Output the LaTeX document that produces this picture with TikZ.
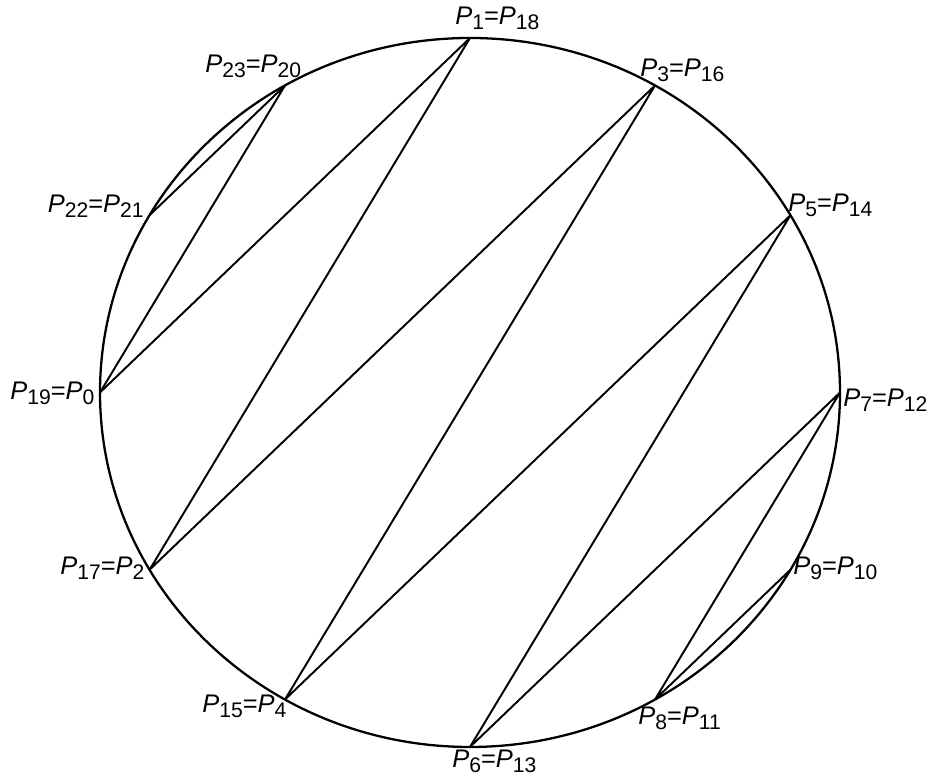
\documentclass[tikz,border=0pt]{standalone}
\usepackage{fontspec}
\setmainfont{Liberation Sans}
\usetikzlibrary{calc}
\newcommand{\ptsub}[1]{\textit{P}\raisebox{-2.6pt}{\fontsize{12}{12}\selectfont #1}}
\newcommand{\pteq}[2]{\ptsub{#1}=\ptsub{#2}}

\begin{document}
\begin{tikzpicture}[font=\fontsize{14.5}{16}\selectfont,rim/.style={line width=1.3pt},chord/.style={line width=1.1pt,line join=round},ptlabel/.style={anchor=base west,inner sep=0pt}]
\useasboundingbox (0,0) rectangle (18.58,15.54);
\coordinate (O) at (9.4,7.69);
\draw[rim] (O) ellipse [x radius=7.4cm, y radius=7.09cm];
\foreach \n/\a in {p0/180,p1/90,p2/210,p3/60,p4/240,p5/30,p6/270,p7/0,p8/300,p9/330,p20/120,p21/150}
  \coordinate (\n) at ($(O)+(\a:7.4 and 7.09)$);
\draw[chord] (p0) -- (p1) -- (p2) -- (p3) -- (p4) -- (p5) -- (p6) -- (p7) -- (p8) -- (p9);
\draw[chord] (p0) -- (p20) -- (p21);
\node[ptlabel] (l1) at (9.1,15.04){\pteq{1}{18}};
\node[ptlabel] (l3) at (12.8,14.0){\pteq{3}{16}};
\node[ptlabel] (l5) at (15.76,11.3){\pteq{5}{14}};
\node[ptlabel] (l7) at (16.86,7.4){\pteq{7}{12}};
\node[ptlabel] (l9) at (15.86,4.04){\pteq{9}{10}};
\node[ptlabel] (l8) at (12.76,1.04){\pteq{8}{11}};
\node[ptlabel] (l6) at (9.04,0.18){\pteq{6}{13}};
\node[ptlabel] (l4) at (4.04,1.28){\pteq{15}{4}};
\node[ptlabel] (l2) at (1.2,4.04){\pteq{17}{2}};
\node[ptlabel] (l0) at (0.2,7.54){\pteq{19}{0}};
\node[ptlabel] (l21) at (0.95,11.29){\pteq{22}{21}};
\node[ptlabel] (l20) at (4.1,14.08){\pteq{23}{20}};
\end{tikzpicture}
\end{document}
